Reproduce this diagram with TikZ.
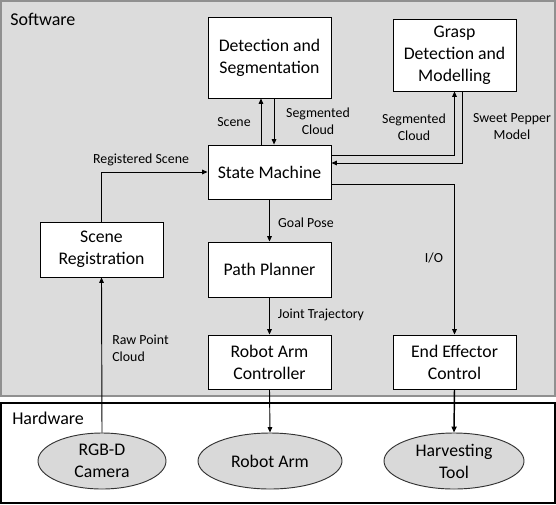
\documentclass[tikz,border=0pt]{standalone}
\usepackage{fontspec}
\setmainfont{Carlito}
\usetikzlibrary{arrows.meta,shapes.geometric}
\definecolor{swbg}{HTML}{DCDCDC}
\definecolor{swborder}{HTML}{909090}
\definecolor{ellfill}{HTML}{D9D9D9}
\tikzset{
  box/.style={draw=black, fill=white, line width=0.7pt, align=center, inner sep=0pt,
    font=\fontsize{13.3}{16.5}\selectfont},
  ell/.style={draw=black!80, fill=ellfill, ellipse, line width=0.7pt, align=center, inner sep=0pt,
    font=\fontsize{13.3}{16.5}\selectfont},
  lbl/.style={align=center, inner sep=0pt, font=\fontsize{10.4}{12.75}\selectfont},
  title/.style={anchor=west, inner sep=0pt, font=\fontsize{13.5}{16}\selectfont},
  arr/.style={draw=black, line width=0.7pt, -{Triangle[length=4pt,width=3.4pt]}},
  arrb/.style={draw=black, line width=1.1pt, -{Triangle[length=4.5pt,width=3.8pt]}}
}
\begin{document}
\begin{tikzpicture}[x=0.75pt,y=-0.75pt]
\useasboundingbox (0,0) rectangle (556,504);
% panels
\draw[fill=swbg, draw=swborder, line width=1pt] (1,1) rectangle (555,396);
\draw[fill=white, draw=black, line width=0.8pt] (1,403) rectangle (555,503);
\node[title] (sw) at (10,19) {Software};
\node[title] (hw) at (12,418) {Hardware};
% boxes
\node[box, minimum width=92.25pt, minimum height=60.75pt] (det) at (269.5,57.5) {Detection and\\Segmentation};
\node[box, minimum width=92.25pt, minimum height=54pt] (grasp) at (454.5,55) {Grasp\\Detection and\\Modelling};
\node[box, minimum width=92.25pt, minimum height=40.5pt] (sm) at (269.5,172) {State Machine};
\node[box, minimum width=92.25pt, minimum height=41.25pt] (pp) at (269.5,269.5) {Path Planner};
\node[box, minimum width=92.25pt, minimum height=40.5pt] (rac) at (269.5,362) {Robot Arm\\Controller};
\node[box, minimum width=92.25pt, minimum height=41.25pt] (sr) at (101.5,249.5) {Scene\\Registration};
\node[box, minimum width=92.25pt, minimum height=40.5pt] (eec) at (454.5,362) {End Effector\\Control};
% ellipses
\node[ell, minimum width=96pt, minimum height=42pt] (cam) at (102,461) {RGB-D\\Camera};
\node[ell, minimum width=108pt, minimum height=42pt] (arm) at (270,461) {Robot Arm};
\node[ell, minimum width=105pt, minimum height=42pt] (tool) at (454,461) {Harvesting\\Tool};
% connectors
\draw[arr] ([xshift=-6.4pt]sm.north) -- ([xshift=-6.4pt]det.south);
\draw[arr] ([xshift=3.4pt]det.south) -- ([xshift=3.4pt]sm.north);
\draw[arr] ([yshift=12.75pt]sm.east) -| (grasp.south);
\draw[arr] ([xshift=6pt]grasp.south) |- ([yshift=6.75pt]sm.east);
\draw[arr] ([yshift=-9pt]sm.east) -| (eec.north);
\draw[arr] (sr.north) |- (sm.west);
\draw[arr] (sm.south) -- (pp.north);
\draw[arr] (pp.south) -- (rac.north);
\draw[arr] (cam.north) -- (sr.south);
\draw[arr] (rac.south) -- (arm.north);
\draw[arrb] (eec.south) -- (tool.north);
% labels
\node[lbl] (l1) at (234,122) {Scene};
\node[lbl] (l2) at (318,121) {Segmented\\Cloud};
\node[lbl] (l3) at (141,160) {Registered Scene};
\node[lbl] (l4) at (414,127) {Segmented\\Cloud};
\node[lbl] (l5) at (512,127) {Sweet Pepper\\Model};
\node[lbl] (l6) at (306,223) {Goal Pose};
\node[lbl] (l7) at (321,315) {Joint Trajectory};
\node[lbl] (l8) at (434,258) {I/O};
\node[lbl, align=left] (l9) at (140.5,348) {Raw Point\\Cloud};
\end{tikzpicture}
\end{document}
